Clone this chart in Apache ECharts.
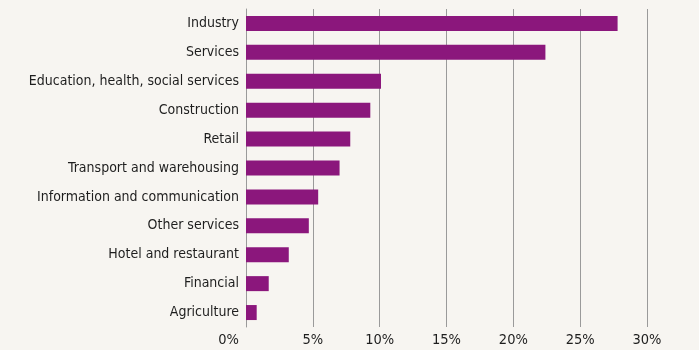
<!DOCTYPE html>
<html>
<head>
<meta charset="utf-8">
<script src="https://cdn.jsdelivr.net/npm/echarts@6/dist/echarts.min.js"></script>
<style>
  html, body { margin: 0; padding: 0; background: #f7f5f1; }
  #chart { width: 699px; height: 350px; }
</style>
</head>
<body>
<div id="chart"></div>
<script>
// Share by sector (%), listed top to bottom
const sectors = [
  'Industry',
  'Services',
  'Education, health, social services',
  'Construction',
  'Retail',
  'Transport and warehousing',
  'Information and communication',
  'Other services',
  'Hotel and restaurant',
  'Financial',
  'Agriculture'
];
const shares = [27.8, 22.4, 10.1, 9.3, 7.8, 7.0, 5.4, 4.7, 3.2, 1.7, 0.8];
const xTicks = [0, 5, 10, 15, 20, 25, 30];

const FONT = '"DejaVu Sans Condensed", "Liberation Sans", sans-serif';
const TEXT = '#1e1e1e';

const chart = echarts.init(document.getElementById('chart'), null, { renderer: 'canvas' });
chart.setOption({
  backgroundColor: '#f7f5f1',
  animation: false,
  grid: { left: 246, right: 52, top: 9, bottom: 23, containLabel: false },
  xAxis: {
    type: 'value',
    min: xTicks[0],
    max: xTicks[xTicks.length - 1],
    interval: xTicks[1] - xTicks[0],
    axisLine: { show: false },
    axisTick: { show: false },
    splitLine: { show: true, lineStyle: { color: '#9a9a9a', width: 1 } },
    axisLabel: {
      // the zero label sits just left of the category axis line
      formatter: v => (v === xTicks[0] ? '{z|' + v + '%}' : v + '%'),
      color: TEXT,
      fontFamily: FONT,
      fontSize: 14.5,
      margin: 6,
      alignMinLabel: 'right',
      rich: {
        z: { color: TEXT, fontFamily: FONT, fontSize: 14.5, padding: [0, 7, 0, 0] }
      }
    }
  },
  yAxis: {
    type: 'category',
    data: sectors,
    inverse: true,
    axisLine: { show: true, lineStyle: { color: '#9a9a9a', width: 1 } },
    axisTick: { show: false },
    axisLabel: {
      color: TEXT,
      fontFamily: FONT,
      fontSize: 14,
      margin: 7
    }
  },
  series: [{
    type: 'bar',
    data: shares,
    barWidth: 15,
    itemStyle: { color: '#8b177c' }
  }]
});
</script>
</body>
</html>
